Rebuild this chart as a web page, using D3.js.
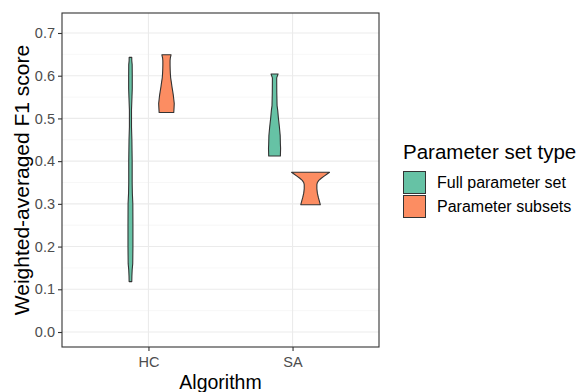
<!DOCTYPE html>
<html>
<head>
<meta charset="utf-8">
<script src="https://cdn.jsdelivr.net/npm/d3@7"></script>
<style>
  html, body { margin: 0; padding: 0; background: #fff; }
  text { font-family: "Liberation Sans", Arial, sans-serif; }
</style>
</head>
<body>
<svg id="chart" width="579" height="392"></svg>
<script>
// Categories
const algorithms = ["HC", "SA"];
const paramTypes = ["Full parameter set", "Parameter subsets"];
const typeColors = ["#66C2A5", "#FC8D62"];

// Y axis ticks
const yTicks = [0.0, 0.1, 0.2, 0.3, 0.4, 0.5, 0.6, 0.7];
const yMinorTicks = [0.05, 0.15, 0.25, 0.35, 0.45, 0.55, 0.65];

// Violin profiles: score and relative density width (1 = widest violin)
const hcFullScore   = [0.118, 0.13, 0.145, 0.16, 0.20, 0.25, 0.30, 0.325, 0.35, 0.40, 0.45, 0.48, 0.52, 0.55, 0.57, 0.60, 0.626, 0.635, 0.643];
const hcFullDensity = [0.070, 0.075, 0.090, 0.120, 0.130, 0.130, 0.125, 0.100, 0.090, 0.090, 0.075, 0.055, 0.055, 0.080, 0.095, 0.095, 0.090, 0.070, 0.068];

const hcSubScore   = [0.514, 0.525, 0.535, 0.545, 0.555, 0.565, 0.575, 0.585, 0.595, 0.605, 0.615, 0.625, 0.635, 0.642, 0.649];
const hcSubDensity = [0.385, 0.400, 0.410, 0.385, 0.359, 0.323, 0.287, 0.256, 0.221, 0.205, 0.195, 0.190, 0.190, 0.205, 0.241];

const saFullScore   = [0.412, 0.43, 0.44, 0.46, 0.48, 0.50, 0.52, 0.53, 0.56, 0.59, 0.595, 0.604];
const saFullDensity = [0.308, 0.318, 0.308, 0.297, 0.256, 0.205, 0.164, 0.133, 0.118, 0.113, 0.113, 0.185];

const saSubScore   = [0.298, 0.305, 0.315, 0.325, 0.335, 0.345, 0.350, 0.355, 0.360, 0.365, 0.370, 0.374];
const saSubDensity = [0.513, 0.472, 0.410, 0.359, 0.333, 0.333, 0.359, 0.436, 0.564, 0.718, 0.872, 1.000];

const violins = [
  { alg: "HC", type: 0, score: hcFullScore, dens: hcFullDensity },
  { alg: "HC", type: 1, score: hcSubScore,  dens: hcSubDensity },
  { alg: "SA", type: 0, score: saFullScore, dens: saFullDensity },
  { alg: "SA", type: 1, score: saSubScore,  dens: saSubDensity }
];

const svg = d3.select("#chart");
const panel = { left: 62, right: 379, top: 13, bottom: 347 };

const x = d3.scalePoint().domain(algorithms).range([panel.left, panel.right]).padding(0.6);
const y = d3.scaleLinear().domain([-0.0351, 0.7468]).range([panel.bottom, panel.top]);
const dodge = d3.scaleLinear().domain([0, 1]).range([-18, 18]);
const halfWidth = d3.scaleLinear().domain([0, 1]).range([0, 19]);

// Panel background
svg.append("rect")
  .attr("x", panel.left).attr("y", panel.top)
  .attr("width", panel.right - panel.left).attr("height", panel.bottom - panel.top)
  .attr("fill", "#fff");

// Grid lines
const grid = svg.append("g");
grid.selectAll(".minor").data(yMinorTicks).join("line")
  .attr("x1", panel.left).attr("x2", panel.right)
  .attr("y1", d => y(d)).attr("y2", d => y(d))
  .attr("stroke", "#F2F2F2").attr("stroke-width", 0.6);
grid.selectAll(".major").data(yTicks).join("line")
  .attr("x1", panel.left).attr("x2", panel.right)
  .attr("y1", d => y(d)).attr("y2", d => y(d))
  .attr("stroke", "#EBEBEB").attr("stroke-width", 1.1);
grid.selectAll(".xmajor").data(algorithms).join("line")
  .attr("x1", d => x(d)).attr("x2", d => x(d))
  .attr("y1", panel.top).attr("y2", panel.bottom)
  .attr("stroke", "#EBEBEB").attr("stroke-width", 1.1);

// Violins
const area = d3.area().curve(d3.curveLinear);
svg.append("g").selectAll("path").data(violins).join("path")
  .attr("d", v => {
    const cx = x(v.alg) + dodge(v.type);
    const pts = v.score.map((s, i) => ({ s, w: v.dens[i] }));
    return area
      .y(p => y(p.s))
      .x0(p => cx - halfWidth(p.w))
      .x1(p => cx + halfWidth(p.w))(pts);
  })
  .attr("fill", v => typeColors[v.type])
  .attr("stroke", "#333333")
  .attr("stroke-width", 1.1)
  .attr("stroke-linejoin", "round");

// Panel border
svg.append("rect")
  .attr("x", panel.left).attr("y", panel.top)
  .attr("width", panel.right - panel.left).attr("height", panel.bottom - panel.top)
  .attr("fill", "none").attr("stroke", "#333333").attr("stroke-width", 1.1);

// Axes
const yAxis = svg.append("g")
  .attr("transform", `translate(${panel.left},0)`)
  .call(d3.axisLeft(y).tickValues(yTicks).tickFormat(d3.format(".1f")).tickSize(4).tickPadding(3));
const xAxis = svg.append("g")
  .attr("transform", `translate(0,${panel.bottom})`)
  .call(d3.axisBottom(x).tickSize(4).tickPadding(6));
[yAxis, xAxis].forEach(a => {
  a.select(".domain").remove();
  a.selectAll(".tick line").attr("stroke", "#333333").attr("stroke-width", 1.1);
  a.selectAll(".tick text")
    .attr("fill", "#4D4D4D")
    .style("font-family", "'Liberation Sans', Arial, sans-serif")
    .style("font-size", "14.5px");
});

// Axis titles
svg.append("text")
  .attr("x", (panel.left + panel.right) / 2).attr("y", 389)
  .attr("text-anchor", "middle")
  .style("font-size", "19.5px").attr("fill", "#000")
  .text("Algorithm");
svg.append("text")
  .attr("transform", `translate(29,${(panel.top + panel.bottom) / 2}) rotate(-90)`)
  .attr("text-anchor", "middle")
  .style("font-size", "21px").attr("fill", "#000")
  .text("Weighted-averaged F1 score");

// Legend
const legend = svg.append("g").attr("transform", "translate(403,0)");
legend.append("text")
  .attr("x", 0).attr("y", 159)
  .style("font-size", "20.5px").attr("fill", "#000")
  .text("Parameter set type");
const items = legend.selectAll(".item").data(paramTypes).join("g")
  .attr("transform", (d, i) => `translate(0,${171 + i * 24})`);
items.append("rect")
  .attr("x", 0.5).attr("y", 0.5).attr("width", 22).attr("height", 22)
  .attr("fill", (d, i) => typeColors[i])
  .attr("stroke", "#333333").attr("stroke-width", 1);
items.append("text")
  .attr("x", 34).attr("y", 17)
  .style("font-size", "16px").attr("fill", "#000")
  .text(d => d);
</script>
</body>
</html>
